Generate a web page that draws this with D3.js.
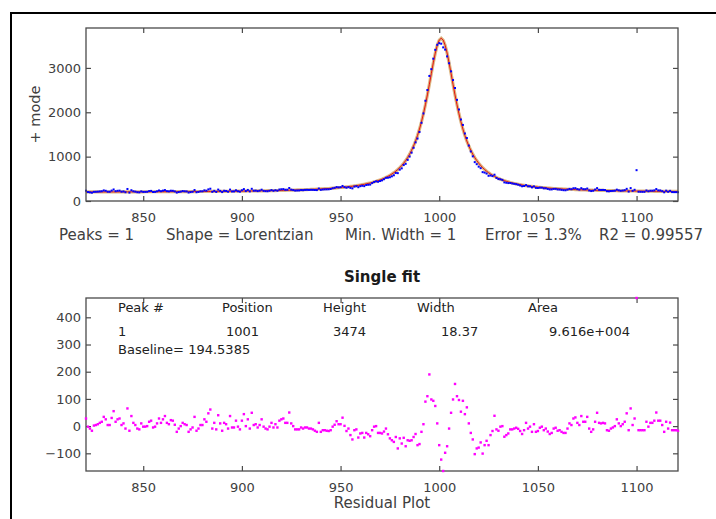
<!DOCTYPE html>
<html>
<head>
<meta charset="utf-8">
<script src="https://cdn.jsdelivr.net/npm/d3@7/dist/d3.min.js"></script>
<style>
  html, body { margin: 0; padding: 0; background: #fff; }
  svg { display: block; }
  text { font-family: "DejaVu Sans", Verdana, sans-serif; }
</style>
</head>
<body>
<svg id="chart" width="716" height="519"></svg>
<script>
// ---------------- DATA ----------------
const xStart = 821; // first x value, step 1
const xTicks = [850, 900, 950, 1000, 1050, 1100];
const topYTicks = [0, 1000, 2000, 3000];
const resYTicks = [-100, 0, 100, 200, 300, 400];

// fitted curve (baseline + Lorentzian), x = 821..1121
const fitValues = [
  204,204,204,204,204,204,204,204,204,205,
  205,205,205,205,205,205,205,206,206,206,
  206,206,206,206,207,207,207,207,207,207,
  208,208,208,208,208,208,209,209,209,209,
  209,210,210,210,210,211,211,211,211,212,
  212,212,212,213,213,213,214,214,214,214,
  215,215,215,216,216,217,217,217,218,218,
  219,219,219,220,220,221,221,222,222,223,
  224,224,225,225,226,227,227,228,229,230,
  230,231,232,233,234,235,236,237,238,239,
  240,241,242,243,245,246,247,249,250,252,
  253,255,257,259,261,263,265,267,269,272,
  274,277,280,282,286,289,292,296,300,304,
  308,312,317,322,328,333,340,346,353,361,
  369,377,386,396,407,418,431,444,459,475,
  492,511,532,555,580,608,638,672,710,752,
  800,853,912,979,1056,1142,1240,1351,1478,1622,
  1784,1967,2170,2392,2629,2874,3115,3334,3511,3628,
  3669,3628,3511,3334,3115,2874,2629,2392,2170,1967,
  1784,1622,1478,1351,1240,1142,1056,979,912,853,
  800,752,710,672,638,608,580,555,532,511,
  492,475,459,444,431,418,407,396,386,377,
  369,361,353,346,340,333,328,322,317,312,
  308,304,300,296,292,289,286,282,280,277,
  274,272,269,267,265,263,261,259,257,255,
  253,252,250,249,247,246,245,243,242,241,
  240,239,238,237,236,235,234,233,232,231,
  230,230,229,228,227,227,226,225,225,224,
  224,223,222,222,221,221,220,220,219,219,
  219,218,218,217,217,217,216,216,215,215,
  215
];

// residuals (data - fit), x = 821..1121
const residuals = [
  28,-2,-9,-17,2,4,7,12,16,34,
  25,4,4,30,55,16,25,28,4,10,
  -9,65,-17,37,12,4,-9,-12,10,-2,
  -2,0,16,20,-5,-2,10,28,12,25,
  37,12,7,22,20,5,-21,-9,0,12,
  7,4,-21,-12,-5,34,-17,-9,4,4,
  25,16,47,61,-9,12,-12,40,10,-17,
  12,7,-9,37,-5,-5,20,-2,-12,20,
  44,0,25,-9,49,4,7,-5,4,25,
  -2,-9,-12,-2,12,-5,7,-5,20,25,
  28,12,12,50,10,0,-12,-12,-12,-5,
  -9,-5,-5,-9,-9,-12,-17,-21,12,-21,
  -15,-15,-17,-18,-15,-2,5,18,7,7,
  31,1,-18,-9,-33,-49,-15,-12,-42,-27,
  -25,-42,-25,-30,-37,-15,-2,0,-25,-25,
  -27,-20,-9,-30,-45,-52,-58,-40,-82,-45,
  -64,-43,-74,-52,-54,-52,-40,-29,-70,-66,
  -21,7,90,110,190,98,93,74,10,-70,
  -123,-165,-98,-74,-9,49,98,155,110,96,
  53,93,44,69,10,-25,-49,-103,-82,-79,
  -60,-101,-70,-54,-70,-33,-18,38,-12,-17,
  -2,0,-39,-33,-27,-12,-12,-9,-6,-10,
  -18,-29,-15,12,-9,-2,-21,7,-21,-18,
  -6,-2,-15,-9,-20,-29,-25,-9,-6,-17,
  -15,-21,-25,-25,-9,10,4,28,32,12,
  4,37,16,16,34,-9,-21,-12,16,49,
  12,10,12,10,-15,-17,-9,-5,0,25,
  10,0,7,16,47,-15,65,4,28,471,
  -15,-15,-15,-15,16,-2,12,12,20,50,
  20,20,4,-21,16,-9,13,-15,-15,-15,
  -17
];

const infoLine = ["Peaks = 1", "Shape = Lorentzian", "Min. Width = 1", "Error = 1.3%", "R2 = 0.99557"];
const tableHeader = ["Peak #", "Position", "Height", "Width", "Area"];
const tableRow = ["1", "1001", "3474", "18.37", "9.616e+004"];
const baselineText = "Baseline= 194.5385";

// ---------------- BUILD ----------------
const pts = fitValues.map((f, i) => ({ x: xStart + i, fit: f, res: residuals[i], y: f + residuals[i] }));

const svg = d3.select("#chart");
const axisColor = "#4a4a4a";
const textColor = "#404040";

// outer frame
svg.append("line").attr("x1", 11).attr("x2", 716).attr("y1", 13).attr("y2", 13)
  .attr("stroke", "#000").attr("stroke-width", 2);
svg.append("line").attr("x1", 11).attr("x2", 11).attr("y1", 12).attr("y2", 519)
  .attr("stroke", "#000").attr("stroke-width", 2);

const L = 86, R = 678;
const x = d3.scaleLinear().domain([xStart, xStart + fitValues.length - 1]).range([L, R]);

function drawFrame(g, y, yTicks, top, bottom) {
  const ax = g.append("g").attr("transform", `translate(0,${bottom})`)
    .call(d3.axisBottom(x).tickValues(xTicks).tickSize(-5).tickPadding(11.5).tickFormat(d3.format("d")));
  const axT = g.append("g").attr("transform", `translate(0,${top})`)
    .call(d3.axisTop(x).tickValues(xTicks).tickSize(-5).tickFormat(""));
  const axL = g.append("g").attr("transform", `translate(${L},0)`)
    .call(d3.axisLeft(y).tickValues(yTicks).tickSize(-5).tickPadding(5).tickFormat(d3.format("d")));
  const axR = g.append("g").attr("transform", `translate(${R},0)`)
    .call(d3.axisRight(y).tickValues(yTicks).tickSize(-5).tickFormat(""));
  [ax, axT, axL, axR].forEach(a => {
    a.select(".domain").remove();
    a.selectAll(".tick line").attr("stroke", axisColor).attr("stroke-width", 1.2);
    a.selectAll(".tick text").attr("fill", textColor).style("font-size", "13px")
      .style("font-family", '"DejaVu Sans", Verdana, sans-serif');
  });
  g.append("rect").attr("x", L).attr("y", top).attr("width", R - L).attr("height", bottom - top)
    .attr("fill", "none").attr("stroke", axisColor).attr("stroke-width", 1.3);
}

// ---------- top plot ----------
const T1 = 28, B1 = 201;
const y1 = d3.scaleLinear().domain([0, 3900]).range([B1, T1]);
const g1 = svg.append("g");

const fitLine = d3.line().x(d => x(d.x)).y(d => y1(d.fit));
g1.append("path").datum(pts).attr("d", fitLine).attr("fill", "none")
  .attr("stroke", "#dcb683").attr("stroke-width", 3.2);
g1.append("path").datum(pts).attr("d", fitLine).attr("fill", "none")
  .attr("stroke", "#e60000").attr("stroke-width", 0.9);
g1.selectAll("rect.pt").data(pts).enter().append("rect").attr("class", "pt")
  .attr("x", d => x(d.x) - 1).attr("y", d => y1(d.y) - 1)
  .attr("width", 2).attr("height", 2).attr("fill", "#0000ff");

drawFrame(g1, y1, topYTicks, T1, B1);

svg.append("text").attr("transform", `translate(40,${(T1 + B1) / 2}) rotate(-90)`)
  .attr("text-anchor", "middle").attr("fill", textColor).style("font-size", "14.5px").text("+ mode");

const infoX = [59, 166, 345, 485, 599];
svg.selectAll("text.info").data(infoLine).enter().append("text").attr("class", "info")
  .attr("x", (d, i) => infoX[i]).attr("y", 240).attr("fill", textColor)
  .style("font-size", "15px").text(d => d);

// title
svg.append("text").attr("x", 382).attr("y", 282).attr("text-anchor", "middle")
  .attr("fill", "#1a1a1a").style("font-size", "15px").style("font-weight", "bold").text("Single fit");

// ---------- residual plot ----------
const T2 = 298, B2 = 471;
const y2 = d3.scaleLinear().domain(d3.extent(residuals)).range([B2, T2]);
const g2 = svg.append("g");

drawFrame(g2, y2, resYTicks, T2, B2);

g2.selectAll("rect.rp").data(pts).enter().append("rect").attr("class", "rp")
  .attr("x", d => x(d.x) - 1.2).attr("y", d => y2(d.res) - 1.2)
  .attr("width", 2.4).attr("height", 2.4).attr("fill", "#ff00ff");

const headX = [118, 222, 323, 417, 528];
const rowX = [118, 226, 333, 441, 549];
svg.selectAll("text.th").data(tableHeader).enter().append("text").attr("class", "th")
  .attr("x", (d, i) => headX[i]).attr("y", 312).attr("fill", "#222").style("font-size", "13px").text(d => d);
svg.selectAll("text.tr").data(tableRow).enter().append("text").attr("class", "tr")
  .attr("x", (d, i) => rowX[i]).attr("y", 336).attr("fill", "#222").style("font-size", "13px").text(d => d);
svg.append("text").attr("x", 118).attr("y", 354).attr("fill", "#222").style("font-size", "13px").text(baselineText);

svg.append("text").attr("x", 382).attr("y", 508).attr("text-anchor", "middle")
  .attr("fill", textColor).style("font-size", "15px").text("Residual Plot");
</script>
</body>
</html>
